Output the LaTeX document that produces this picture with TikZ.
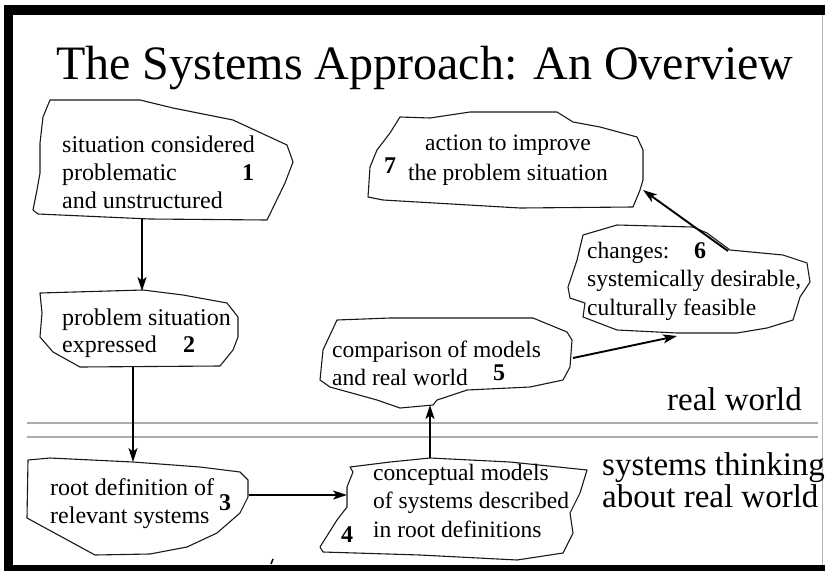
\documentclass[tikz,border=0pt]{standalone}
\usepackage{fontspec}
\setmainfont{Liberation Serif}
\usetikzlibrary{arrows.meta}
% multi-line text block whose baseline is that of its first line
\newcommand\blobtext[2][l]{\begin{tabular}[t]{@{}#1@{}}#2\end{tabular}}
\begin{document}
\begin{tikzpicture}[x=1pt,y=-1pt,
  blob/.style={draw=black!90, line width=1.1pt, line join=round, fill=white},
  flow/.style={line width=1.9pt, -{Stealth[length=14pt,width=9pt,inset=3.5pt]}},
  divider/.style={draw=black!33, line width=1.6pt},
  lbl/.style={inner sep=0pt, anchor=base west, font=\fontsize{24}{28}\selectfont},
  num/.style={inner sep=0pt, anchor=base, font=\fontsize{24}{28}\selectfont\bfseries},
  side/.style={inner sep=0pt, anchor=base west, font=\fontsize{33}{38}\selectfont},
]
\useasboundingbox (0,0) rectangle (825,571);
\fill[white] (0,0) rectangle (825,571);

% frame
\fill[black] (4,5) rectangle (825,15);
\fill[black] (4,5) rectangle (13,571);
\fill[black] (4,565) rectangle (825,571);
\draw[black!30, line width=0.8pt] (822,15) -- (822,565);

% title
\node[inner sep=0pt, anchor=base west, font=\fontsize{48}{56}\selectfont] (title) at (56,79)
  {The Systems Approach: An Overview};

% boundary between the real world and systems thinking
\draw[divider] (27,423) -- (818,423);
\draw[divider] (27,437) -- (818,437);

% blobs
\draw[blob] (50,100) -- (140,100) -- (173,108) -- (233,120) -- (287,145) -- (293,162)
  -- (285,183) -- (267,220) -- (150,219) -- (38,214) -- (33,210) -- (37,190)
  -- (40,173) -- (40,143) -- (43,117) -- cycle;
\draw[blob] (40,293) -- (143,290) -- (183,295) -- (227,303) -- (238,317) -- (238,337)
  -- (233,350) -- (220,366) -- (80,367) -- (53,352) -- (40,337) -- (42,313) -- cycle;
\draw[blob] (28,460) -- (50,458) -- (133,462) -- (200,467) -- (240,472) -- (248,480)
  -- (248,497) -- (240,513) -- (217,533) -- (187,547) -- (150,554) -- (95,555)
  -- (27,518) -- cycle;
\draw[blob] (350,467) -- (390,462) -- (430,458) -- (510,462) -- (587,470) -- (580,493)
  -- (570,513) -- (573,533) -- (563,553) -- (517,560) -- (420,555) -- (323,552)
  -- (320,547) -- (337,520) -- (347,507) -- (347,487) -- (353,472) -- cycle;
\draw[blob] (337,320) -- (390,318) -- (533,318) -- (567,332) -- (572,340) -- (570,367)
  -- (563,380) -- (530,387) -- (467,390) -- (437,400) -- (433,405) -- (400,408)
  -- (377,400) -- (330,387) -- (320,380) -- (323,350) -- (330,335) -- cycle;
\draw[blob] (583,235) -- (617,225) -- (693,227) -- (707,233) -- (730,250) -- (783,255)
  -- (807,263) -- (810,282) -- (800,297) -- (793,320) -- (767,328) -- (737,333)
  -- (677,333) -- (617,330) -- (583,317) -- (585,303) -- (570,298) -- (568,287)
  -- (577,260) -- cycle;
\draw[blob] (400,117) -- (430,118) -- (470,112) -- (557,112) -- (573,122) -- (600,127)
  -- (637,137) -- (643,150) -- (643,180) -- (640,190) -- (633,207) -- (520,208)
  -- (383,200) -- (368,197) -- (370,167) -- (377,150) -- (390,133) -- cycle;

% blob texts
\node[lbl] (t1) at (62,152) {\blobtext{situation considered\\problematic\\and unstructured}};
\node[num] (n1) at (248,180) {1};
\node[lbl, font=\fontsize{24}{27}\selectfont] (t2) at (62,325) {\blobtext{problem situation\\expressed}};
\node[num] (n2) at (189,352) {2};
\node[lbl] (t3) at (50,495) {\blobtext{root definition of\\relevant systems}};
\node[num] (n3) at (225,510) {3};
\node[lbl, font=\fontsize{23.5}{28.5}\selectfont] (t4) at (373,480)
  {\blobtext{conceptual models\\of systems described\\in root definitions}};
\node[num] (n4) at (347,542) {4};
\node[lbl, font=\fontsize{23.5}{28}\selectfont] (t5) at (332,357)
  {\blobtext{comparison of models\\and real world}};
\node[num] (n5) at (499,380) {5};
\node[lbl, font=\fontsize{23.5}{28.5}\selectfont] (t6) at (587,258)
  {\blobtext{changes:\\systemically desirable,\\culturally feasible}};
\node[num] (n6) at (700,258) {6};
\node[lbl, anchor=base, font=\fontsize{23.5}{30}\selectfont] (t7) at (508,150)
  {\blobtext[c]{action to improve\\the problem situation}};
\node[num] (n7) at (390,173) {7};

% side labels
\node[side] (rw) at (667,410) {real world};
\node[side, font=\fontsize{33}{32}\selectfont] (st) at (602,475)
  {\blobtext{systems thinking\\about real world}};

% connector ends on the blob outlines
\coordinate (b1s) at (142,219);
\coordinate (b2n) at (142,291);
\coordinate (b2s) at (133,367);
\coordinate (b3n) at (133,462);
\coordinate (b3e) at (249,495);
\coordinate (b4w) at (347,495);
\coordinate (b4n) at (430,458);
\coordinate (b5s) at (430,405);
\coordinate (b5e) at (573,358);
\coordinate (b6w) at (677,336);
\coordinate (b6n) at (728,251);
\coordinate (b7e) at (643,190);

\draw[flow] (b1s) -- (b2n);
\draw[flow, line width=1.5pt] (b2s) -- (b3n);
\draw[flow] (b3e) -- (b4w);
\draw[flow] (b4n) -- (b5s);
\draw[flow] (b5e) -- (b6w);
\draw[flow] (b6n) -- (b7e);

% small stray pen mark on the lower edge
\draw[line width=1.5pt] (271,564) -- (273,559);
\end{tikzpicture}
\end{document}
